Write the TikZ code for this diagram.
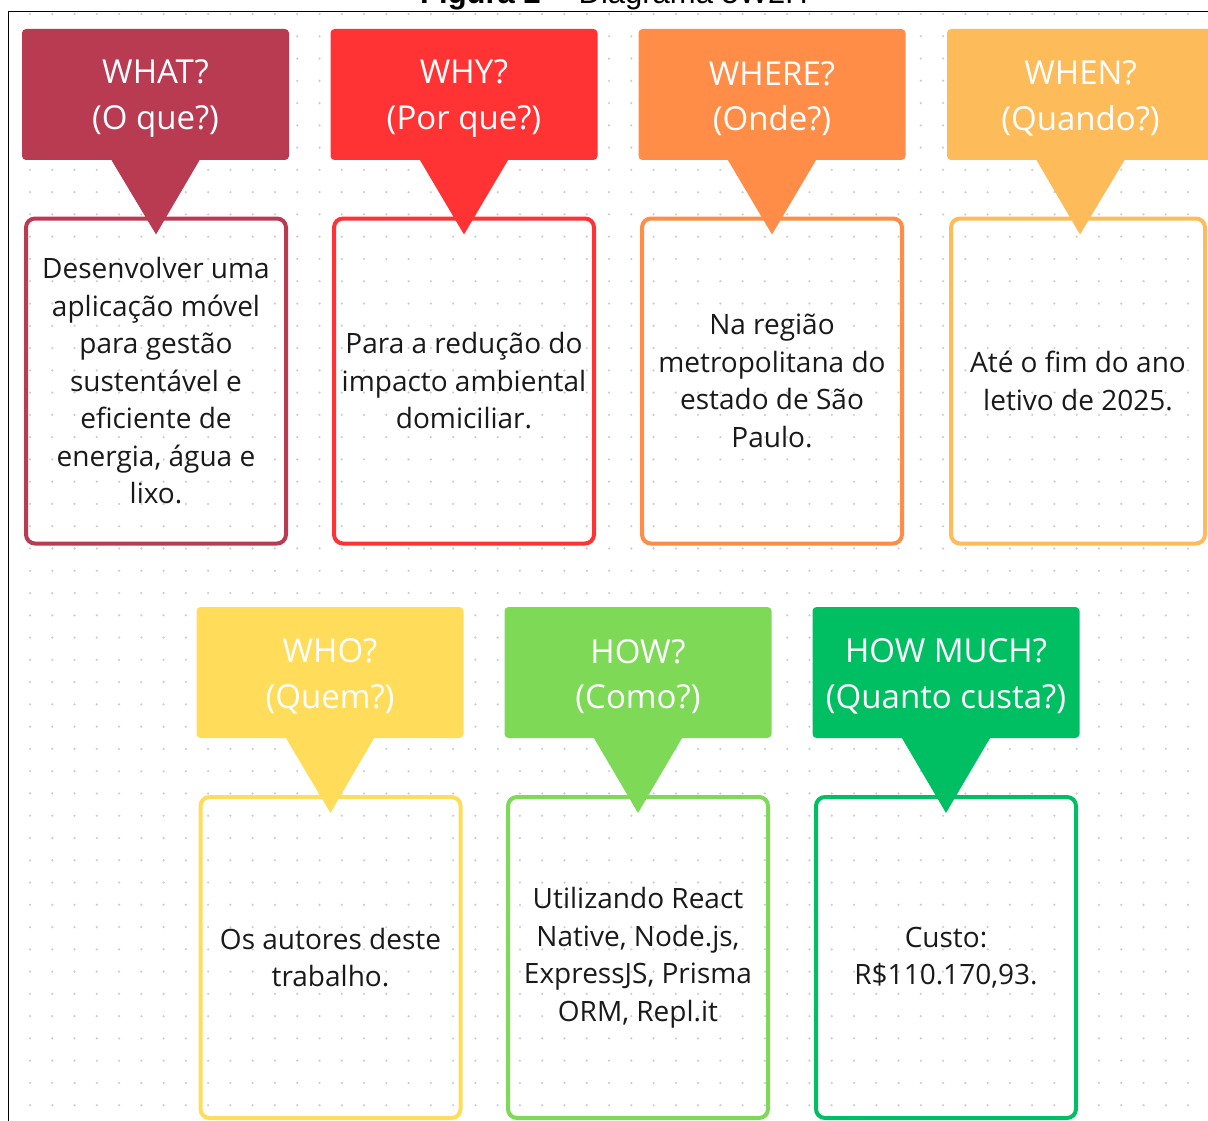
\documentclass[tikz,border=0pt]{standalone}
\usepackage{fontspec}
\setmainfont{Open Sans}
\newfontfamily\arialfont{Liberation Sans}
\definecolor{whatc}{HTML}{B83B52}
\definecolor{whyc}{HTML}{FF3333}
\definecolor{wherec}{HTML}{FF8C47}
\definecolor{whenc}{HTML}{FDBB5A}
\definecolor{whoc}{HTML}{FFDC5A}
\definecolor{howc}{HTML}{7ED957}
\definecolor{muchc}{HTML}{00BF63}
\definecolor{dotc}{HTML}{C9CED9}
\newcommand{\headstrut}{\rule{0pt}{32pt}}

\begin{document}
\begin{tikzpicture}[x=1pt,y=-1pt,
    head/.style={fill=#1, rounded corners=4pt, minimum width=267pt, minimum height=131pt,
      inner sep=0pt, text=white, align=center,
      font=\fontsize{33}{45.5}\selectfont},
    card/.style={draw=#1, line width=4pt, rounded corners=9pt, minimum width=260pt,
      minimum height=325pt, inner sep=0pt, text=black!90, align=center,
      font=\fontsize{28}{37.5}\selectfont},
    tip/.style={fill=#1}]
  \useasboundingbox (0,0) rectangle (1208,1121);
  \clip (0,0) rectangle (1208,1121);

  % dot grid
  \foreach \i in {0,...,53}
    \foreach \j in {0,...,49}
      \fill[dotc] (30+22.27*\i, 14+22.27*\j) circle (1.25pt);

  % frame and title
  \draw[line width=1.5pt] (8.5,1121) -- (8.5,11.5) -- (1208,11.5);
  \node[anchor=base, inner sep=0pt, font=\arialfont\fontsize{31}{33}\selectfont] (title) at (614,4)
    {\textbf{Figura 2} -- Diagrama 5W2H};

  % first row
  \node[card=whatc] (whatbox) at (156,381)
    {Desenvolver uma\\aplicação móvel\\para gestão\\sustentável e\\eficiente de\\energia, água e\\lixo.};
  \node[card=whyc] (whybox) at (464,381) {Para a redução do\\impacto ambiental\\domiciliar.};
  \node[card=wherec] (wherebox) at (772,381) {Na região\\metropolitana do\\estado de São\\Paulo.};
  \node[card=whenc, minimum width=254pt] (whenbox) at (1078,381) {Até o fim do ano\\letivo de 2025.};

  \node[head=whatc] (what) at (155.5,94.5) {\headstrut WHAT?\\(O que?)};
  \node[head=whyc] (why) at (464,94.5) {\headstrut WHY?\\(Por que?)};
  \node[head=wherec] (where) at (772,94.5) {\headstrut WHERE?\\(Onde?)};
  \node[head=whenc] (when) at (1080.5,94.5) {\headstrut WHEN?\\(Quando?)};

  \fill[tip=whatc] ([xshift=-44pt]what.south) -- ([xshift=44pt]what.south) -- ([yshift=-18pt]whatbox.north) -- cycle;
  \fill[tip=whyc] ([xshift=-44pt]why.south) -- ([xshift=44pt]why.south) -- ([yshift=-18pt]whybox.north) -- cycle;
  \fill[tip=wherec] ([xshift=-44pt]where.south) -- ([xshift=44pt]where.south) -- ([yshift=-18pt]wherebox.north) -- cycle;
  \fill[tip=whenc] ([xshift=-44pt]when.south) -- ([xshift=44pt]when.south) -- ([yshift=-18pt,xshift=2pt]whenbox.north) -- cycle;

  % second row
  \node[card=whoc, minimum height=321pt] (whobox) at (330.5,957.5) {Os autores deste\\trabalho.};
  \node[card=howc, minimum height=321pt] (howbox) at (638,957.5)
    {Utilizando React\\Native, Node.js,\\ExpressJS, Prisma\\ORM, Repl.it};
  \node[card=muchc, minimum height=321pt] (muchbox) at (946,957.5) {Custo:\\R\$110.170,93.};

  \node[head=whoc] (who) at (330,672.5) {\headstrut WHO?\\(Quem?)};
  \node[head=howc] (how) at (638,672.5) {\headstrut HOW?\\(Como?)};
  \node[head=muchc] (much) at (946,672.5) {\headstrut HOW MUCH?\\(Quanto custa?)};

  \fill[tip=whoc] ([xshift=-44pt]who.south) -- ([xshift=44pt]who.south) -- ([yshift=-18pt]whobox.north) -- cycle;
  \fill[tip=howc] ([xshift=-44pt]how.south) -- ([xshift=44pt]how.south) -- ([yshift=-18pt]howbox.north) -- cycle;
  \fill[tip=muchc] ([xshift=-44pt]much.south) -- ([xshift=44pt]much.south) -- ([yshift=-18pt]muchbox.north) -- cycle;
\end{tikzpicture}
\end{document}
